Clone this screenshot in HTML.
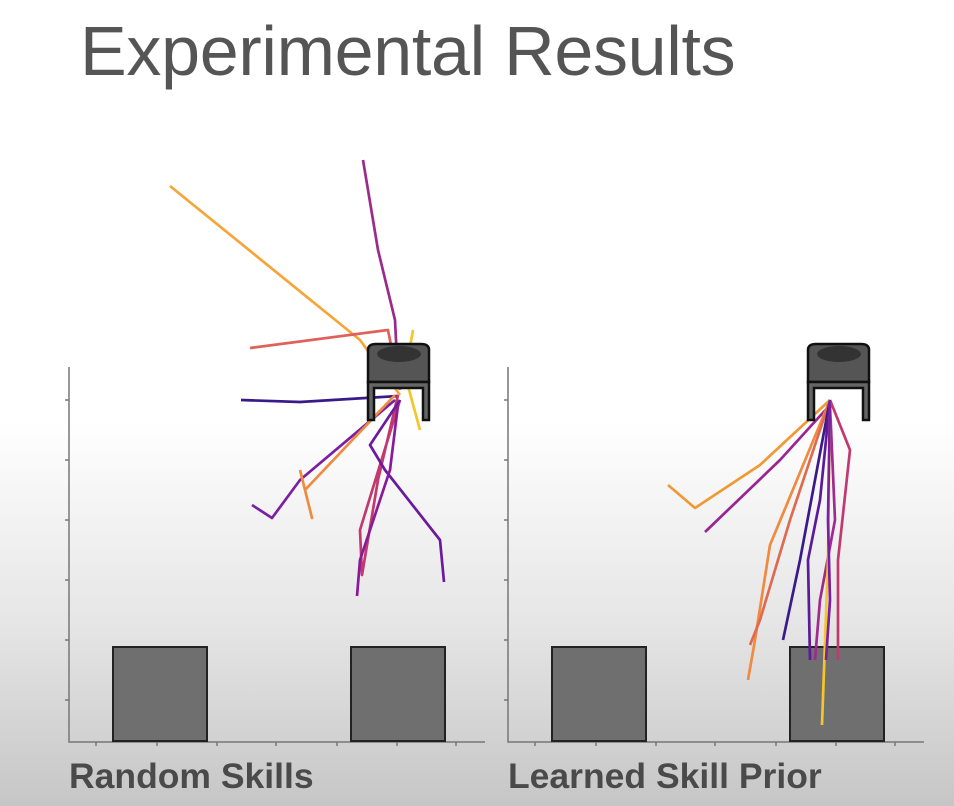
<!DOCTYPE html>
<html><head><style>
html,body{margin:0;padding:0}
body{width:954px;height:806px;overflow:hidden;background:linear-gradient(to bottom,#fff 0px,#fff 420px,#e6e6e6 620px,#c6c6c6 806px);font-family:"Liberation Sans",sans-serif;position:relative}
.t{position:absolute;left:80px;top:11px;font-size:70px;color:#555;letter-spacing:-0.3px}
.l{position:absolute;top:756px;font-size:35.5px;font-weight:bold;color:#4a4a4a}
</style></head><body>
<div class="t">Experimental Results</div>
<svg width="954" height="806" style="position:absolute;left:0;top:0" fill="none">
<defs>
<g id="grip">
<path d="M2,6 Q2,0 10,0 L55,0 Q63,0 63,6 L63,38 L2,38 Z" fill="#555" stroke="#111" stroke-width="2.5"/>
<ellipse cx="33" cy="10" rx="22" ry="8" fill="#333"/>
<path d="M2,38 L63,38 L63,76 L57,76 L57,44 L8,44 L8,76 L2,76 Z" fill="#666" stroke="#111" stroke-width="2.5"/>
</g>
<g id="ax">
<path d="M0,0 V375 H416" stroke="#777" stroke-width="1.5"/>
<path d="M0,33h-4M0,93h-4M0,153h-4M0,213h-4M0,273h-4M0,333h-4M27,375v4M88,375v4M148,375v4M207,375v4M268,375v4M328,375v4M387,375v4" stroke="#777" stroke-width="1.5"/>
<rect x="44" y="280" width="94" height="94" fill="#6f6f6f" stroke="#222" stroke-width="2"/>
<rect x="282" y="280" width="94" height="94" fill="#6f6f6f" stroke="#222" stroke-width="2"/>
</g>
</defs>
<use href="#ax" x="69" y="367"/>
<use href="#ax" x="508" y="367"/>
<g stroke-width="2.7" stroke-linejoin="round">
<polyline stroke="#f6a53a" points="170,186 360,340 400,395"/>
<polyline stroke="#e0605a" points="250,348 388,330 392,350 400,390"/>
<polyline stroke="#9a2b8a" points="363,160 378,250 395,320 398,380"/>
<polyline stroke="#f5c52a" points="413,330 405,375 420,430"/>
<polyline stroke="#3a1a8a" points="241,400 300,402 398,396"/>
<polyline stroke="#7a20a0" points="252,505 272,518 300,480 395,400"/>
<polyline stroke="#f08a40" points="300,470 312,518 305,490 395,395"/>
<polyline stroke="#c03a70" points="398,395 378,480 362,575 360,530 400,400"/>
<polyline stroke="#6a1a9a" points="400,400 370,445 385,470 440,540 444,582"/>
<polyline stroke="#8a1a9a" points="398,405 390,470 360,560 357,596"/>
<polyline stroke="#f09a35" points="668,485 695,508 760,465 830,400"/>
<polyline stroke="#9a2590" points="705,532 780,460 830,405"/>
<polyline stroke="#f08a40" points="830,400 770,545 755,640 748,680"/>
<polyline stroke="#e06a50" points="830,400 790,520 760,620 750,645"/>
<polyline stroke="#3a1a8a" points="830,400 800,560 783,640"/>
<polyline stroke="#5a1a9a" points="830,400 820,500 808,560 810,660"/>
<polyline stroke="#c03a70" points="830,400 850,450 838,560 838,660"/>
<polyline stroke="#a02a90" points="830,405 835,520 820,600 815,660"/>
<polyline stroke="#f5c52a" points="830,400 828,560 822,725"/>
<polyline stroke="#7a20a0" points="830,400 828,520 830,600 826,660"/>
</g>
<use href="#grip" x="366" y="344"/>
<use href="#grip" x="806" y="344"/>
</svg>
<div class="l" style="left:69px">Random Skills</div>
<div class="l" style="left:508px">Learned Skill Prior</div>
</body></html>
